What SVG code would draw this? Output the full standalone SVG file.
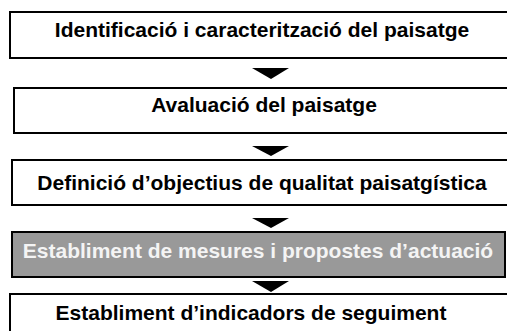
<svg xmlns="http://www.w3.org/2000/svg" width="507" height="331" viewBox="0 0 507 331">
<style>
.box{fill:#fff;stroke:#000;stroke-width:2}
.gray{fill:#999;stroke:#000;stroke-width:2}
.t{font-family:"Liberation Sans",Arial,sans-serif;font-weight:bold;font-size:21px;text-anchor:middle;fill:#000}
.tw{fill:#f4f4f4}
.arr{fill:#000}
</style>
<rect width="507" height="331" fill="#fff"/>
<g id="n1"><rect class="box" x="10" y="12" width="510" height="46"/><text class="t" x="262" y="37">Identificació i caracterització del paisatge</text></g>
<g id="n2"><rect class="box" x="14" y="88" width="510" height="45"/><text class="t" x="264" y="112">Avaluació del paisatge</text></g>
<g id="n3"><rect class="box" x="12" y="160" width="510" height="45"/><text class="t" x="262" y="190">Definició d’objectius de qualitat paisatgística</text></g>
<g id="n4"><rect class="gray" x="12" y="232" width="493" height="45"/><text class="t tw" x="258" y="258">Establiment de mesures i propostes d’actuació</text></g>
<g id="n5"><rect class="box" x="10" y="294" width="510" height="50"/><text class="t" x="251" y="320">Establiment d’indicadors de seguiment</text></g>
<g id="connectors">
<polygon class="arr" points="252,68 289,68 271,79"/>
<polygon class="arr" points="252,146 289,146 271,156"/>
<polygon class="arr" points="252,218 289,218 271,228"/>
<polygon class="arr" points="252,281 289,281 271,292"/>
</g>
</svg>
